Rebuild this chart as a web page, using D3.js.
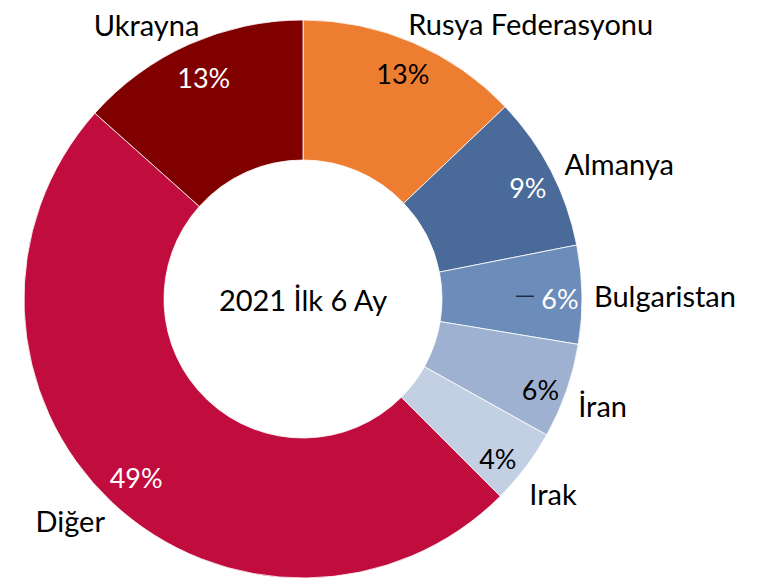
<!DOCTYPE html>
<html>
<head>
<meta charset="utf-8">
<script src="https://cdn.jsdelivr.net/npm/d3@7"></script>
<style>
	body { margin: 0; background: #fff; }
	text { font-family: Lato, "Open Sans", sans-serif; }
</style>
</head>
<body>
<div id="chart"></div>
<script>
// shares, clockwise from 12 o'clock
var countries = ['Rusya Federasyonu', 'Almanya', 'Bulgaristan', 'İran', 'Irak', 'Diğer', 'Ukrayna']
var shares = [12.9, 9.0, 5.7, 5.5, 4.4, 49.1, 13.4]
var colors = ['#ED7D31', '#4A6A9A', '#6C8CBA', '#9EB1D0', '#C3CFE2', '#C10D3E', '#800000']
var pctInk = ['#000', '#fff', '#fff', '#000', '#000', '#fff', '#fff']
var centerTitle = '2021 İlk 6 Ay'

var init = function(domelement) {
	var width = 768
	var height = 580
	var cx = 303
	var cy = 299
	var outerR = 279
	var innerR = 139

	var svg = d3.select(domelement).append('svg')
		.attr('width', width)
		.attr('height', height)

	var g = svg.append('g').attr('transform', 'translate(' + cx + ',' + cy + ')')

	var rows = countries.map(function(c, i) {
		return {'name': c, 'value': shares[i], 'color': colors[i], 'ink': pctInk[i]}
	})

	var pie = d3.pie().sort(null).value(function(d) { return d.value })
	var arcs = pie(rows)

	var arc = d3.arc().innerRadius(innerR).outerRadius(outerR)
	var pctArc = d3.arc().innerRadius(243).outerRadius(243)
	var nameArc = d3.arc().innerRadius(300).outerRadius(300)

	g.selectAll('path.slice')
		.data(arcs)
		.enter().append('path')
		.attr('class', 'slice')
		.attr('d', arc)
		.attr('fill', function(d) { return d.data.color })
		.attr('stroke', '#fff')
		.attr('stroke-width', 0.8)

	// small nudges, excel moves some labels around
	var pctNudge = {
		'Rusya Federasyonu': [4, -2], 'Almanya': [9, 0], 'Bulgaristan': [14, 3],
		'İran': [8, 10], 'Irak': [1, 13], 'Diğer': [0, 2], 'Ukrayna': [0, 0]
	}
	var nameNudge = {
		'Rusya Federasyonu': [-13, 0], 'Almanya': [-5, 2], 'Bulgaristan': [-9, 1],
		'İran': [-8, 8], 'Irak': [-13, 14], 'Diğer': [8, 3], 'Ukrayna': [19, -1]
	}

	g.selectAll('text.pct')
		.data(arcs)
		.enter().append('text')
		.attr('class', 'pct')
		.attr('x', function(d) { return pctArc.centroid(d)[0] + pctNudge[d.data.name][0] })
		.attr('y', function(d) { return pctArc.centroid(d)[1] + pctNudge[d.data.name][1] })
		.attr('text-anchor', 'middle')
		.attr('dominant-baseline', 'central')
		.attr('font-size', 27)
		.attr('fill', function(d) { return d.data.ink })
		.text(function(d) { return Math.round(d.data.value) + '%' })

	g.selectAll('text.name')
		.data(arcs)
		.enter().append('text')
		.attr('class', 'name')
		.attr('x', function(d) { return nameArc.centroid(d)[0] + nameNudge[d.data.name][0] })
		.attr('y', function(d) { return nameArc.centroid(d)[1] + nameNudge[d.data.name][1] })
		.attr('text-anchor', function(d) {
			var mid = (d.startAngle + d.endAngle) / 2
			return mid > Math.PI ? 'end' : 'start'
		})
		.attr('dominant-baseline', 'central')
		.attr('font-size', 29)
		.attr('fill', '#000')
		.text(function(d) { return d.data.name })

	// leader line for Bulgaristan
	var bg = arcs[2]
	var bc = pctArc.centroid(bg)
	g.append('line')
		.attr('x1', bc[0] - 30).attr('x2', bc[0] - 12)
		.attr('y1', bc[1] + 1).attr('y2', bc[1] + 1)
		.attr('stroke', '#000')
		.attr('stroke-width', 1)

	g.append('text')
		.attr('x', 0)
		.attr('y', 0)
		.attr('text-anchor', 'middle')
		.attr('dominant-baseline', 'central')
		.attr('font-size', 29)
		.attr('fill', '#000')
		.text(centerTitle)
}

init('#chart')
</script>
</body>
</html>
